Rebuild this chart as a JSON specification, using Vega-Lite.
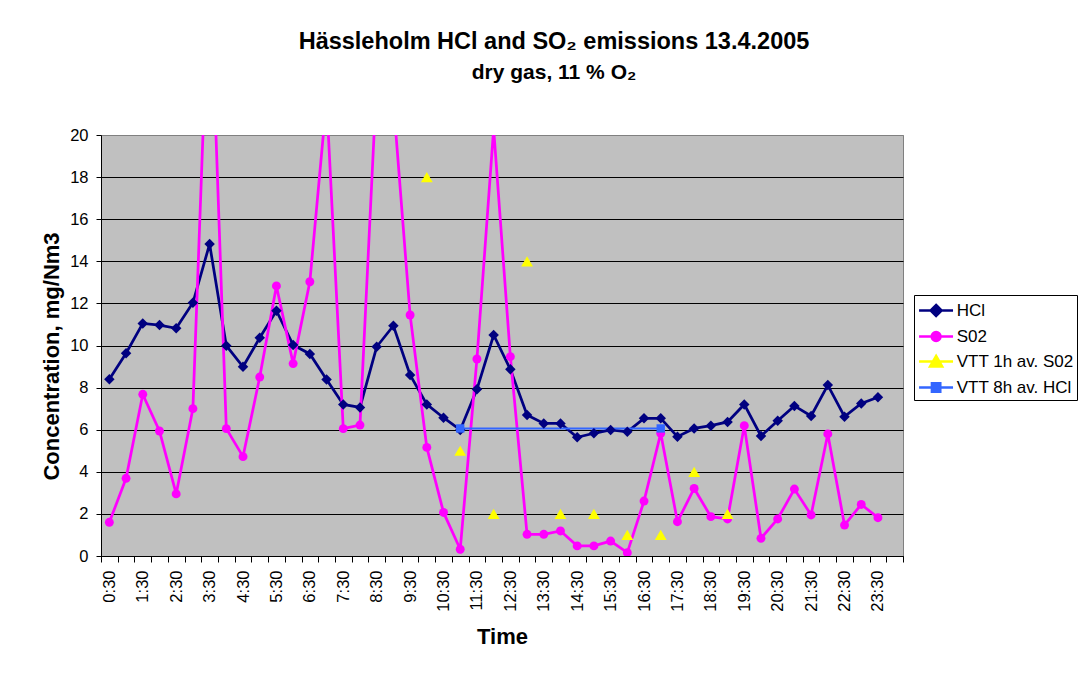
{
  "$schema": "https://vega.github.io/schema/vega-lite/v6.json",
  "width": 802,
  "height": 421,
  "autosize": {"type": "none"},
  "padding": {"left": 101, "top": 135, "right": 185, "bottom": 117},
  "background": "white",
  "config": {
    "font": "Liberation Sans",
    "view": {"fill": "#C0C0C0", "stroke": "#808080", "strokeWidth": 1}
  },
  "title": {
    "text": "Hässleholm HCl and SO₂ emissions 13.4.2005",
    "subtitle": "dry gas, 11 % O₂",
    "fontSize": 23.5,
    "fontWeight": "bold",
    "color": "black",
    "subtitleFontSize": 21,
    "subtitleFontWeight": "bold",
    "subtitleColor": "black",
    "subtitlePadding": 9,
    "anchor": "middle",
    "frame": "group",
    "dx": 52,
    "offset": 44
  },
  "data": {
    "values": [
      {"t":"0:30","s":"HCl","v":8.4},{"t":"1:00","s":"HCl","v":9.63},{"t":"1:30","s":"HCl","v":11.05},{"t":"2:00","s":"HCl","v":10.97},
      {"t":"2:30","s":"HCl","v":10.82},{"t":"3:00","s":"HCl","v":12.03},{"t":"3:30","s":"HCl","v":14.82},{"t":"4:00","s":"HCl","v":9.99},
      {"t":"4:30","s":"HCl","v":8.99},{"t":"5:00","s":"HCl","v":10.37},{"t":"5:30","s":"HCl","v":11.65},{"t":"6:00","s":"HCl","v":10.02},
      {"t":"6:30","s":"HCl","v":9.6},{"t":"7:00","s":"HCl","v":8.39},{"t":"7:30","s":"HCl","v":7.2},{"t":"8:00","s":"HCl","v":7.06},
      {"t":"8:30","s":"HCl","v":9.94},{"t":"9:00","s":"HCl","v":10.94},{"t":"9:30","s":"HCl","v":8.6},{"t":"10:00","s":"HCl","v":7.2},
      {"t":"10:30","s":"HCl","v":6.57},{"t":"11:00","s":"HCl","v":5.99},{"t":"11:30","s":"HCl","v":7.92},{"t":"12:00","s":"HCl","v":10.5},
      {"t":"12:30","s":"HCl","v":8.87},{"t":"13:00","s":"HCl","v":6.7},{"t":"13:30","s":"HCl","v":6.3},{"t":"14:00","s":"HCl","v":6.3},
      {"t":"14:30","s":"HCl","v":5.64},{"t":"15:00","s":"HCl","v":5.83},{"t":"15:30","s":"HCl","v":5.99},{"t":"16:00","s":"HCl","v":5.9},
      {"t":"16:30","s":"HCl","v":6.54},{"t":"17:00","s":"HCl","v":6.54},{"t":"17:30","s":"HCl","v":5.67},{"t":"18:00","s":"HCl","v":6.06},
      {"t":"18:30","s":"HCl","v":6.19},{"t":"19:00","s":"HCl","v":6.37},{"t":"19:30","s":"HCl","v":7.2},{"t":"20:00","s":"HCl","v":5.7},
      {"t":"20:30","s":"HCl","v":6.43},{"t":"21:00","s":"HCl","v":7.13},{"t":"21:30","s":"HCl","v":6.65},{"t":"22:00","s":"HCl","v":8.12},
      {"t":"22:30","s":"HCl","v":6.62},{"t":"23:00","s":"HCl","v":7.25},{"t":"23:30","s":"HCl","v":7.54},
      {"t":"0:30","s":"S02","v":1.6},{"t":"1:00","s":"S02","v":3.69},{"t":"1:30","s":"S02","v":7.68},{"t":"2:00","s":"S02","v":5.94},
      {"t":"2:30","s":"S02","v":2.95},{"t":"3:00","s":"S02","v":7.0},{"t":"3:30","s":"S02","v":28.6},{"t":"4:00","s":"S02","v":6.05},
      {"t":"4:30","s":"S02","v":4.72},{"t":"5:00","s":"S02","v":8.5},{"t":"5:30","s":"S02","v":12.83},{"t":"6:00","s":"S02","v":9.14},
      {"t":"6:30","s":"S02","v":13.03},{"t":"7:00","s":"S02","v":21.7},{"t":"7:30","s":"S02","v":6.05},{"t":"8:00","s":"S02","v":6.22},
      {"t":"8:30","s":"S02","v":22.6},{"t":"9:00","s":"S02","v":21.6},{"t":"9:30","s":"S02","v":11.45},{"t":"10:00","s":"S02","v":5.16},
      {"t":"10:30","s":"S02","v":2.07},{"t":"11:00","s":"S02","v":0.32},{"t":"11:30","s":"S02","v":9.36},{"t":"12:00","s":"S02","v":20.3},
      {"t":"12:30","s":"S02","v":9.47},{"t":"13:00","s":"S02","v":1.03},{"t":"13:30","s":"S02","v":1.03},{"t":"14:00","s":"S02","v":1.19},
      {"t":"14:30","s":"S02","v":0.48},{"t":"15:00","s":"S02","v":0.48},{"t":"15:30","s":"S02","v":0.71},{"t":"16:00","s":"S02","v":0.16},
      {"t":"16:30","s":"S02","v":2.61},{"t":"17:00","s":"S02","v":5.83},{"t":"17:30","s":"S02","v":1.63},{"t":"18:00","s":"S02","v":3.21},
      {"t":"18:30","s":"S02","v":1.87},{"t":"19:00","s":"S02","v":1.76},{"t":"19:30","s":"S02","v":6.19},{"t":"20:00","s":"S02","v":0.84},
      {"t":"20:30","s":"S02","v":1.76},{"t":"21:00","s":"S02","v":3.18},{"t":"21:30","s":"S02","v":1.95},{"t":"22:00","s":"S02","v":5.8},
      {"t":"22:30","s":"S02","v":1.47},{"t":"23:00","s":"S02","v":2.45},{"t":"23:30","s":"S02","v":1.82},
      {"t":"10:00","s":"VTT 1h av. S02","v":18},{"t":"11:00","s":"VTT 1h av. S02","v":5},{"t":"12:00","s":"VTT 1h av. S02","v":2},
      {"t":"13:00","s":"VTT 1h av. S02","v":14},{"t":"14:00","s":"VTT 1h av. S02","v":2},{"t":"15:00","s":"VTT 1h av. S02","v":2},
      {"t":"16:00","s":"VTT 1h av. S02","v":1},{"t":"17:00","s":"VTT 1h av. S02","v":1},{"t":"18:00","s":"VTT 1h av. S02","v":4},
      {"t":"19:00","s":"VTT 1h av. S02","v":2},
      {"t":"11:00","s":"VTT 8h av. HCl","v":6.06},{"t":"17:00","s":"VTT 8h av. HCl","v":6.06}
    ]
  },
  "encoding": {
    "x": {
      "field": "t",
      "type": "ordinal",
      "sort": null,
      "scale": {
        "domain": ["0:30","1:00","1:30","2:00","2:30","3:00","3:30","4:00","4:30","5:00","5:30","6:00","6:30","7:00","7:30","8:00","8:30","9:00","9:30","10:00","10:30","11:00","11:30","12:00","12:30","13:00","13:30","14:00","14:30","15:00","15:30","16:00","16:30","17:00","17:30","18:00","18:30","19:00","19:30","20:00","20:30","21:00","21:30","22:00","22:30","23:00","23:30","24:00"],
        "paddingInner": 0,
        "paddingOuter": 0
      },
      "axis": {
        "title": "Time",
        "titleFontSize": 22,
        "titleFontWeight": "bold",
        "titleColor": "black",
        "titlePadding": 15,
        "labelAngle": -90,
        "labelFontSize": 16.5,
        "labelColor": "black",
        "labelPadding": 8,
        "labelOverlap": false,
        "labelExpr": "slice(datum.label, -2) == '30' ? datum.label : ''",
        "tickBand": "extent",
        "tickColor": "black",
        "tickSize": 6,
        "domainColor": "black",
        "grid": false
      }
    },
    "y": {
      "field": "v",
      "type": "quantitative",
      "scale": {"domain": [0, 20], "nice": false},
      "axis": {
        "title": "Concentration, mg/Nm3",
        "titleFontSize": 22,
        "titleFontWeight": "bold",
        "titleColor": "black",
        "titlePadding": 6,
        "titleY": 221,
        "values": [0, 2, 4, 6, 8, 10, 12, 14, 16, 18, 20],
        "labelFontSize": 16.5,
        "labelColor": "black",
        "labelPadding": 8,
        "tickSize": 5,
        "tickColor": "black",
        "domainColor": "black",
        "grid": true,
        "gridColor": {"condition": {"test": "datum.value == 20", "value": "#808080"}, "value": "black"},
        "gridOpacity": 1,
        "gridWidth": 1
      }
    },
    "color": {
      "field": "s",
      "type": "nominal",
      "scale": {
        "domain": ["HCl", "S02", "VTT 1h av. S02", "VTT 8h av. HCl"],
        "range": ["#000080", "#FF00FF", "#FFFF00", "#3366FF"]
      },
      "legend": {
        "orient": "none",
        "legendX": 813,
        "legendY": 160,
        "title": null,
        "strokeColor": "black",
        "fillColor": "white",
        "padding": 3,
        "labelFontSize": 17,
        "labelColor": "black",
        "symbolSize": 484,
        "symbolStrokeWidth": 2.5,
        "labelOffset": 14.7,
        "rowPadding": 3,
        "encode": {
          "symbols": {
            "update": {
              "shape": {"signal": "datum.value === 'HCl' ? 'M-0.95,0H2.14M0.6,-0.5L1.1,0L0.6,0.5L0.1,0Z' : datum.value === 'S02' ? 'M-0.95,0H2.14M1,0A0.4,0.4,0,1,1,0.2,0A0.4,0.4,0,1,1,1,0Z' : datum.value === 'VTT 1h av. S02' ? 'M-0.95,0H2.14M0.6,-0.5L1.15,0.45L0.05,0.45Z' : 'M-0.95,0H2.14M0.22,-0.38H0.98V0.38H0.22Z'"},
              "fill": {"signal": "scale('color', datum.value)"},
              "stroke": {"signal": "scale('color', datum.value)"},
              "strokeWidth": {"value": 2.5},
              "opacity": {"value": 1},
              "fillOpacity": {"value": 1},
              "strokeOpacity": {"value": 1}
            }
          }
        }
      }
    }
  },
  "layer": [
    {
      "transform": [{"filter": "datum.s == 'HCl' || datum.s == 'S02'"}],
      "mark": {"type": "line", "clip": true, "strokeWidth": 2.75}
    },
    {
      "transform": [{"filter": "datum.s == 'VTT 8h av. HCl'"}],
      "mark": {"type": "line", "clip": true, "strokeWidth": 2}
    },
    {
      "transform": [{"filter": "datum.s == 'HCl'"}],
      "mark": {"type": "point", "shape": "diamond", "filled": true, "opacity": 1, "size": 110, "clip": true}
    },
    {
      "transform": [{"filter": "datum.s == 'S02'"}],
      "mark": {"type": "point", "shape": "circle", "filled": true, "opacity": 1, "size": 80, "clip": true}
    },
    {
      "transform": [{"filter": "datum.s == 'VTT 1h av. S02'"}],
      "mark": {"type": "point", "shape": "triangle-up", "filled": true, "opacity": 1, "size": 140, "clip": true}
    },
    {
      "transform": [{"filter": "datum.s == 'VTT 8h av. HCl'"}],
      "mark": {"type": "point", "shape": "square", "filled": true, "opacity": 1, "size": 70, "clip": true}
    }
  ]
}
